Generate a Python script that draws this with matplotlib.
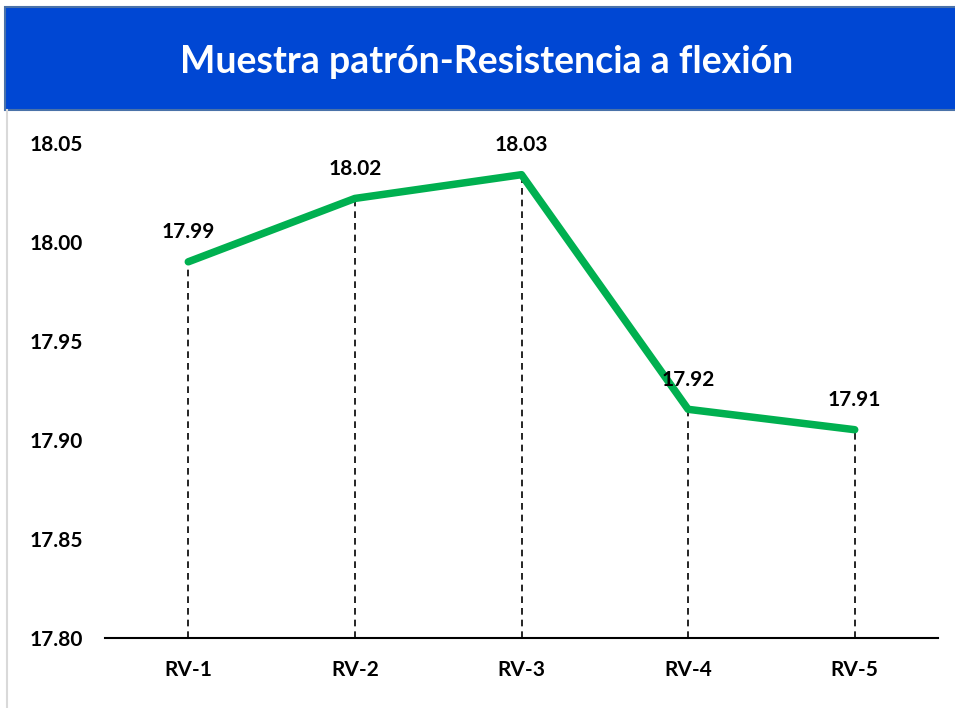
import matplotlib.pyplot as plt
import matplotlib.patches as mpatches
import matplotlib.ticker as mticker

plt.rcParams['font.family'] = ['Lato', 'DejaVu Sans']

categories = ["RV-1", "RV-2", "RV-3", "RV-4", "RV-5"]
values = [17.990, 18.022, 18.034, 17.9155, 17.9052]
y_ticks = [17.80, 17.85, 17.90, 17.95, 18.00, 18.05]
title = "Muestra patrón-Resistencia a flexión"

fig = plt.figure(figsize=(9.55, 7.08), dpi=100)
fig.patch.set_facecolor("white")

# header band
fig.patches.append(mpatches.Rectangle((5 / 955, 1 - 110 / 708), 1.0, 103 / 708,
                                      transform=fig.transFigure, facecolor="#0047D3",
                                      edgecolor="#4A72A8", linewidth=1.5, zorder=0))
fig.text(487 / 955, 1 - 62 / 708, title, ha="center", va="center",
         color="white", fontsize=27, fontweight="bold")
# faint left frame line
fig.add_artist(plt.Line2D([7 / 955, 7 / 955], [0, 1 - 110 / 708],
                          transform=fig.transFigure, color="#D9D9D9", linewidth=1.5))

ax = fig.add_axes([105 / 955, 70 / 708, 833 / 955, 495 / 708])
x = list(range(len(categories)))
ax.plot(x, values, color="#00B050", linewidth=5.4, solid_capstyle="round",
        solid_joinstyle="round", zorder=3)
ax.vlines(x, 17.80, values, colors="black", linestyles=(0, (4, 3)), linewidth=1.2, zorder=2)

for xi, v in zip(x, values):
    ax.annotate(f"{v:.2f}", (xi, v), xytext=(0, 14), textcoords="offset points",
                ha="center", va="bottom", fontsize=15, fontweight="bold",
                annotation_clip=False)

ax.set_xlim(-0.5, 4.5)
ax.set_ylim(17.80, 18.05)
ax.set_yticks(y_ticks)
ax.yaxis.set_major_formatter(mticker.FormatStrFormatter("%.2f"))
ax.set_xticks(x)
ax.set_xticklabels(categories)

for s in ["top", "right", "left"]:
    ax.spines[s].set_visible(False)
ax.spines["bottom"].set_linewidth(1.5)
ax.tick_params(axis="y", length=0, pad=16, labelsize=15)
ax.tick_params(axis="x", length=0, pad=16, labelsize=15)
for lbl in ax.get_xticklabels() + ax.get_yticklabels():
    lbl.set_fontweight("bold")

plt.savefig("out.png", dpi=100)
plt.close()
